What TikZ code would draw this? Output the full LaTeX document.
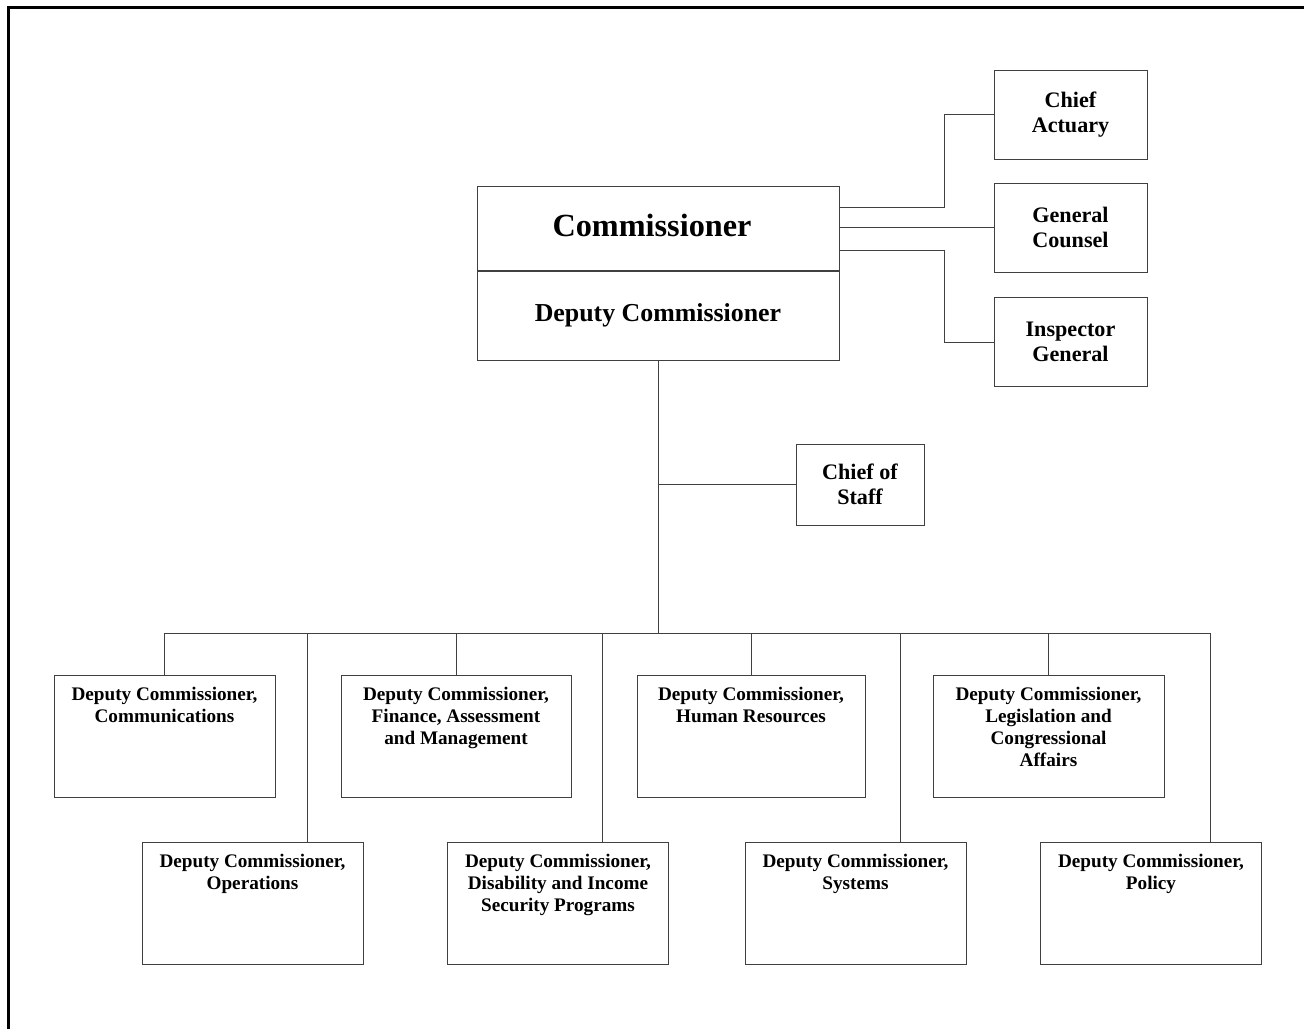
\documentclass[tikz,border=0pt]{standalone}
\usepackage{fontspec}
\setmainfont{Liberation Serif}
\usetikzlibrary{positioning}

\newcommand{\dctext}[1]{\parbox[c][91.5pt][t]{160pt}{\centering\vspace*{9pt}#1}}

\begin{document}
\begin{tikzpicture}[x=0.75pt,y=-0.75pt,
    line/.style={draw=black!75,line width=0.75pt},
    headbox/.style={line,inner sep=0pt,minimum width=271.5pt,align=center},
    sidebox/.style={line,inner sep=0pt,minimum width=114.75pt,minimum height=66.75pt,align=center,
        font=\bfseries\fontsize{16.6}{18.75}\selectfont},
    dcbox/.style={line,inner sep=0pt,minimum width=165.75pt,minimum height=91.5pt,
        font=\bfseries\fontsize{14.4}{16.5}\selectfont}]
    \useasboundingbox (0,0) rectangle (1304,1029);
    \draw[line width=2.25pt] (8.5,1029) |- (1304,7.5);

    \node[headbox,minimum height=63pt,font=\bfseries\fontsize{24.2}{29}\selectfont] (cmr) at (658,228) {\hspace*{-9pt}Commissioner\rule[-4pt]{0pt}{1pt}};
    \node[headbox,minimum height=66.75pt,font=\bfseries\fontsize{19.4}{23}\selectfont,below=0pt of cmr] (dep) {Deputy Commissioner};

    \node[sidebox] (actu) at (1070.5,114.5) {Chief\\Actuary};
    \node[sidebox] (coun) at (1070.5,227.5) {General\\Counsel};
    \node[sidebox] (insp) at (1070.5,342) {Inspector\\General};
    \node[sidebox,minimum width=96pt,minimum height=60.75pt] (cos) at (860,484.5) {Chief of\\Staff};

    \node[dcbox] (comm) at (164.5,736) {\dctext{Deputy Commissioner,\\Communications}};
    \node[dcbox,minimum width=172.5pt] (fin) at (456,736) {\dctext{Deputy Commissioner,\\Finance, Assessment\\and Management}};
    \node[dcbox,minimum width=171pt] (hr) at (751,736) {\dctext{Deputy Commissioner,\\Human Resources}};
    \node[dcbox,minimum width=173.25pt] (leg) at (1048.5,736) {\dctext{Deputy Commissioner,\\Legislation and\\Congressional\\Affairs}};
    \node[dcbox] (ops) at (252.5,903.5) {\dctext{Deputy Commissioner,\\Operations}};
    \node[dcbox] (dis) at (558,903.5) {\dctext{Deputy Commissioner,\\Disability and Income\\Security Programs}};
    \node[dcbox] (sys) at (855.5,903.5) {\dctext{Deputy Commissioner,\\Systems}};
    \node[dcbox] (pol) at (1151,903.5) {\dctext{Deputy Commissioner,\\Policy}};

    % staff offices
    \draw[line] ([yshift=15.75pt]cmr.east) -- ++(105,0) |- (actu.west);
    \draw[line] (coun.west -| cmr.east) -- (coun.west);
    \draw[line] ([yshift=-16.5pt]cmr.east) -- ++(105,0) |- (insp.west);

    % main line
    \coordinate (bus) at (658,633);
    \draw[line] (dep.south) -- (bus);
    \draw[line] (cos.west) -- (cos.west -| dep.south);
    \draw[line] (comm.north |- bus) -- ([xshift=44.25pt]pol.north |- bus);
    \foreach \n in {comm,fin,hr,leg}
        \draw[line] (\n.north) -- (\n.north |- bus);
    \foreach \n/\s in {ops/40.9pt,dis/33pt,sys/33.4pt,pol/44.25pt}
        \draw[line] ([xshift=\s]\n.north) -- ([xshift=\s]\n.north |- bus);
\end{tikzpicture}
\end{document}
